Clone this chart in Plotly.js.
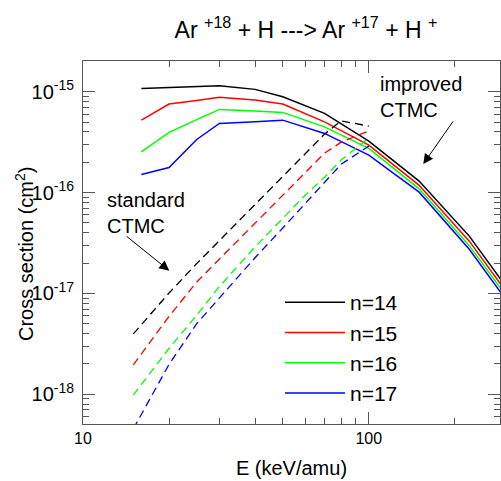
<!DOCTYPE html>
<html><head><meta charset="utf-8">
<script src="https://cdn.plot.ly/plotly-3.0.1.min.js"></script>
<style>html,body{margin:0;padding:0;background:#fff;}#chart{width:501px;height:481px;}</style>
</head><body><div id="chart"></div>
<script>
// Improved CTMC (solid lines)
const energyImproved = [16, 20, 25, 30, 40, 50, 70, 100, 150, 225, 300];
const improvedN14 = [1.08e-15, 1.106e-15, 1.134e-15, 1.147e-15, 1.056e-15, 8.92e-16, 6.10e-16, 3.24e-16, 1.30e-16, 3.68e-17, 1.20e-17];
const improvedN15 = [5.23e-16, 7.55e-16, 8.21e-16, 8.80e-16, 8.27e-16, 7.55e-16, 5.03e-16, 2.95e-16, 1.18e-16, 3.28e-17, 1.07e-17];
const improvedN16 = [2.53e-16, 3.95e-16, 5.29e-16, 6.68e-16, 6.43e-16, 6.24e-16, 4.49e-16, 2.74e-16, 1.09e-16, 2.96e-17, 9.75e-18];
const improvedN17 = [1.51e-16, 1.77e-16, 3.36e-16, 4.85e-16, 5.03e-16, 5.23e-16, 3.86e-16, 2.35e-16, 1.01e-16, 2.73e-17, 8.9e-18];

// Standard CTMC (dashed lines)
const energyStandard = [15, 20, 25, 30, 40, 50, 60, 70, 80, 100];
const standardN14 = [3.97e-18, 1.01e-17, 1.98e-17, 3.35e-17, 7.67e-17, 1.46e-16, 2.46e-16, 3.80e-16, 5.15e-16, 4.56e-16];
const standardN15 = [1.96e-18, 5.92e-18, 1.30e-17, 2.19e-17, 5.02e-17, 9.51e-17, 1.59e-16, 2.46e-16, 3.16e-16, 4.10e-16];
const standardN16 = [9.82e-19, 2.85e-18, 6.08e-18, 1.17e-17, 2.89e-17, 5.54e-17, 9.47e-17, 1.42e-16, 2.10e-16, 3.47e-16];
const standardN17 = [4.54e-19, 1.98e-18, 5.02e-18, 9.00e-18, 2.26e-17, 4.45e-17, 7.76e-17, 1.24e-16, 1.91e-16, 2.89e-16];

const seriesNames = ['n=14', 'n=15', 'n=16', 'n=17'];
const seriesColors = ['#000000', '#ff0000', '#00ff00', '#0000ff'];

const xTickVals = [10, 100];
const xTickText = ['10', '100'];
const xMinorVals = [20, 30, 40, 50, 60, 70, 80, 90, 200, 300];
const yTickVals = [1e-18, 1e-17, 1e-16, 1e-15];
const yTickText = ['10<sup>-18</sup>', '10<sup>-17</sup>', '10<sup>-16</sup>', '10<sup>-15</sup>'];
const yMinorVals = [];
[-19, -18, -17, -16, -15].forEach(function (e) {
  for (let m = 2; m <= 9; m++) yMinorVals.push(m * Math.pow(10, e));
});

const improved = [improvedN14, improvedN15, improvedN16, improvedN17];
const standard = [standardN14, standardN15, standardN16, standardN17];

const traces = [];
improved.forEach(function (ys, i) {
  traces.push({
    x: energyImproved, y: ys, type: 'scatter', mode: 'lines',
    name: seriesNames[i],
    line: {color: seriesColors[i], width: 1.5}
  });
});
standard.forEach(function (ys, i) {
  traces.push({
    x: energyStandard, y: ys, type: 'scatter', mode: 'lines',
    name: seriesNames[i] + ' standard', showlegend: false,
    line: {color: seriesColors[i], width: 1.3, dash: '8px,5px'}
  });
});

const axisColor = '#555555';
const layout = {
  width: 501, height: 481,
  margin: {l: 83, r: 1, t: 61, b: 57, pad: 0},
  paper_bgcolor: '#ffffff', plot_bgcolor: '#ffffff',
  font: {family: 'Liberation Sans, Arial, sans-serif', size: 20, color: '#000'},
  showlegend: true,
  title: {
    text: 'Ar <sup>+18</sup> + H ---> Ar <sup>+17</sup> + H <sup>+</sup>',
    font: {size: 23, color: '#000'},
    xref: 'container', x: 306 / 501, xanchor: 'center',
    yref: 'container', y: 1 - 30 / 481, yanchor: 'middle'
  },
  xaxis: {
    type: 'log', range: [1, 2.459], autorange: false,
    tickvals: xTickVals, ticktext: xTickText,
    ticks: 'inside', ticklen: 12, tickwidth: 1, tickcolor: axisColor,
    showline: true, linecolor: axisColor, linewidth: 1, mirror: 'allticks',
    showgrid: false, zeroline: false,
    tickfont: {size: 16},
    minor: {tickvals: xMinorVals, ticks: 'inside', ticklen: 6, tickwidth: 1, tickcolor: axisColor, showgrid: false},
    title: {text: 'E (keV/amu)', font: {size: 20}, standoff: 14}
  },
  yaxis: {
    type: 'log', range: [-18.295, -14.695], autorange: false,
    tickvals: yTickVals, ticktext: yTickText,
    ticks: 'inside', ticklen: 12, tickwidth: 1, tickcolor: axisColor,
    showline: true, linecolor: axisColor, linewidth: 1, mirror: 'allticks',
    showgrid: false, zeroline: false,
    tickfont: {size: 20},
    ticklabelstandoff: 4,
    minor: {tickvals: yMinorVals, ticks: 'inside', ticklen: 6, tickwidth: 1, tickcolor: axisColor, showgrid: false}
  },
  legend: {
    x: (280 - 83) / 417, xanchor: 'left',
    y: (424 - 282) / 363, yanchor: 'top',
    bgcolor: 'rgba(0,0,0,0)', borderwidth: 0,
    font: {size: 21}, itemwidth: 60,
    traceorder: 'normal'
  },
  annotations: [
    {xref: 'paper', yref: 'paper', x: -0.139, y: (424 - 254) / 363, text: 'Cross section (cm<sup>2</sup>)',
     textangle: -90, showarrow: false, xanchor: 'center', yanchor: 'middle', font: {size: 20}},
    {xref: 'paper', yref: 'paper', x: (378 - 83) / 417, y: (424 - 97.5) / 363, text: 'improved<br>CTMC',
     showarrow: false, xanchor: 'left', yanchor: 'middle', align: 'left', font: {size: 20}},
    {xref: 'paper', yref: 'paper', x: (105 - 83) / 417, y: (424 - 212.5) / 363, text: 'standard<br>CTMC',
     showarrow: false, xanchor: 'left', yanchor: 'middle', align: 'left', font: {size: 20}},
    {xref: 'paper', yref: 'paper', x: (423.3 - 83) / 417, y: (424 - 164) / 363, text: '',
     showarrow: true, axref: 'pixel', ayref: 'pixel', ax: 30.7, ay: -44,
     arrowhead: 2, arrowsize: 2, arrowwidth: 1, arrowcolor: '#000'},
    {xref: 'paper', yref: 'paper', x: (169.3 - 83) / 417, y: (424 - 270.7) / 363, text: '',
     showarrow: true, axref: 'pixel', ayref: 'pixel', ax: -44.3, ay: -35.7,
     arrowhead: 2, arrowsize: 2, arrowwidth: 1, arrowcolor: '#000'}
  ]
};

Plotly.newPlot('chart', traces, layout, {displayModeBar: false, staticPlot: true});
</script>
</body></html>
